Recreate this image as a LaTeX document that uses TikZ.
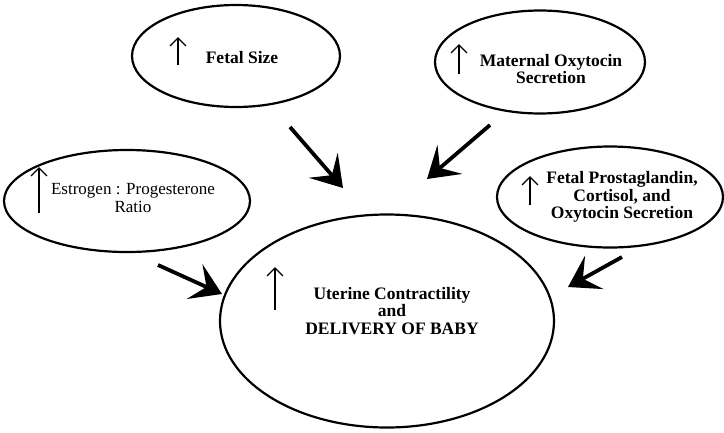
\documentclass[tikz,border=0pt]{standalone}
\usepackage{fontspec}
\setmainfont{Liberation Serif}
\usetikzlibrary{shapes.geometric,arrows.meta}

\tikzset{
  factor/.style={draw, ellipse, line width=2.2pt, inner sep=0pt},
  factortext/.style={align=center, font=\fontsize{17.5}{17.5}\selectfont\bfseries},
  rise/.style={line width=1.4pt, -{Straight Barb[length=8pt,width=16pt,line width=1.4pt]}},
  push/.style={line width=3.8pt, -{Stealth[length=30pt,width=38pt,inset=13pt]}}
}

\begin{document}
\begin{tikzpicture}[x=1pt, y=-1pt]

  \useasboundingbox (0,0) rectangle (724,432);

  % ---- Outer influences ----
  \node[factor, minimum width=208pt, minimum height=102pt] (fetal)    at (236,56)  {};
  \node[factor, minimum width=210pt, minimum height=103pt] (maternal) at (540,62)  {};
  \node[factor, minimum width=246pt, minimum height=102pt] (ratio)    at (127,201) {};
  \node[factor, minimum width=226pt, minimum height=101pt] (prosta)   at (610,197) {};

  % ---- Outcome ----
  \node[factor, minimum width=334pt, minimum height=213pt] (uterus)   at (387,321) {};

  % ---- Labels ----
  \node[factortext] (fetal-lbl)    at (242,58)  {Fetal Size};
  \node[factortext] (maternal-lbl) at (551,69)  {Maternal Oxytocin\\Secretion};
  \node[factortext, font=\fontsize{17}{17.5}\selectfont] (ratio-lbl) at (133,198)
    {Estrogen : Progesterone\\Ratio};
  \node[factortext] (prosta-lbl)   at (622,197) {Fetal Prostaglandin,\\Cortisol, and\\Oxytocin Secretion};
  \node[factortext] (uterus-lbl)   at (392,311) {Uterine Contractility\\and\\DELIVERY OF BABY};

  % ---- "increase" marks ----
  \draw[rise] (178,65)  -- (178,37);
  \draw[rise] (459,74)  -- (459,44);
  \draw[rise] (39,213)  -- (39,167);
  \draw[rise] (530,205) -- (530,176);
  \draw[rise] (275,310) -- (275,267);

  % ---- Arrows into the outcome ----
  \coordinate (fetal-out)    at (290,127);
  \coordinate (fetal-in)     at (343,188);
  \coordinate (maternal-out) at (490,125);
  \coordinate (maternal-in)  at (427,179);
  \coordinate (ratio-out)    at (158,265);
  \coordinate (ratio-in)     at (222,294);
  \coordinate (prosta-out)   at (622,257);
  \coordinate (prosta-in)    at (568,287);

  \draw[push] (fetal-out)    -- (fetal-in);
  \draw[push] (maternal-out) -- (maternal-in);
  \draw[push] (ratio-out)    -- (ratio-in);
  \draw[push] (prosta-out)   -- (prosta-in);

\end{tikzpicture}
\end{document}
